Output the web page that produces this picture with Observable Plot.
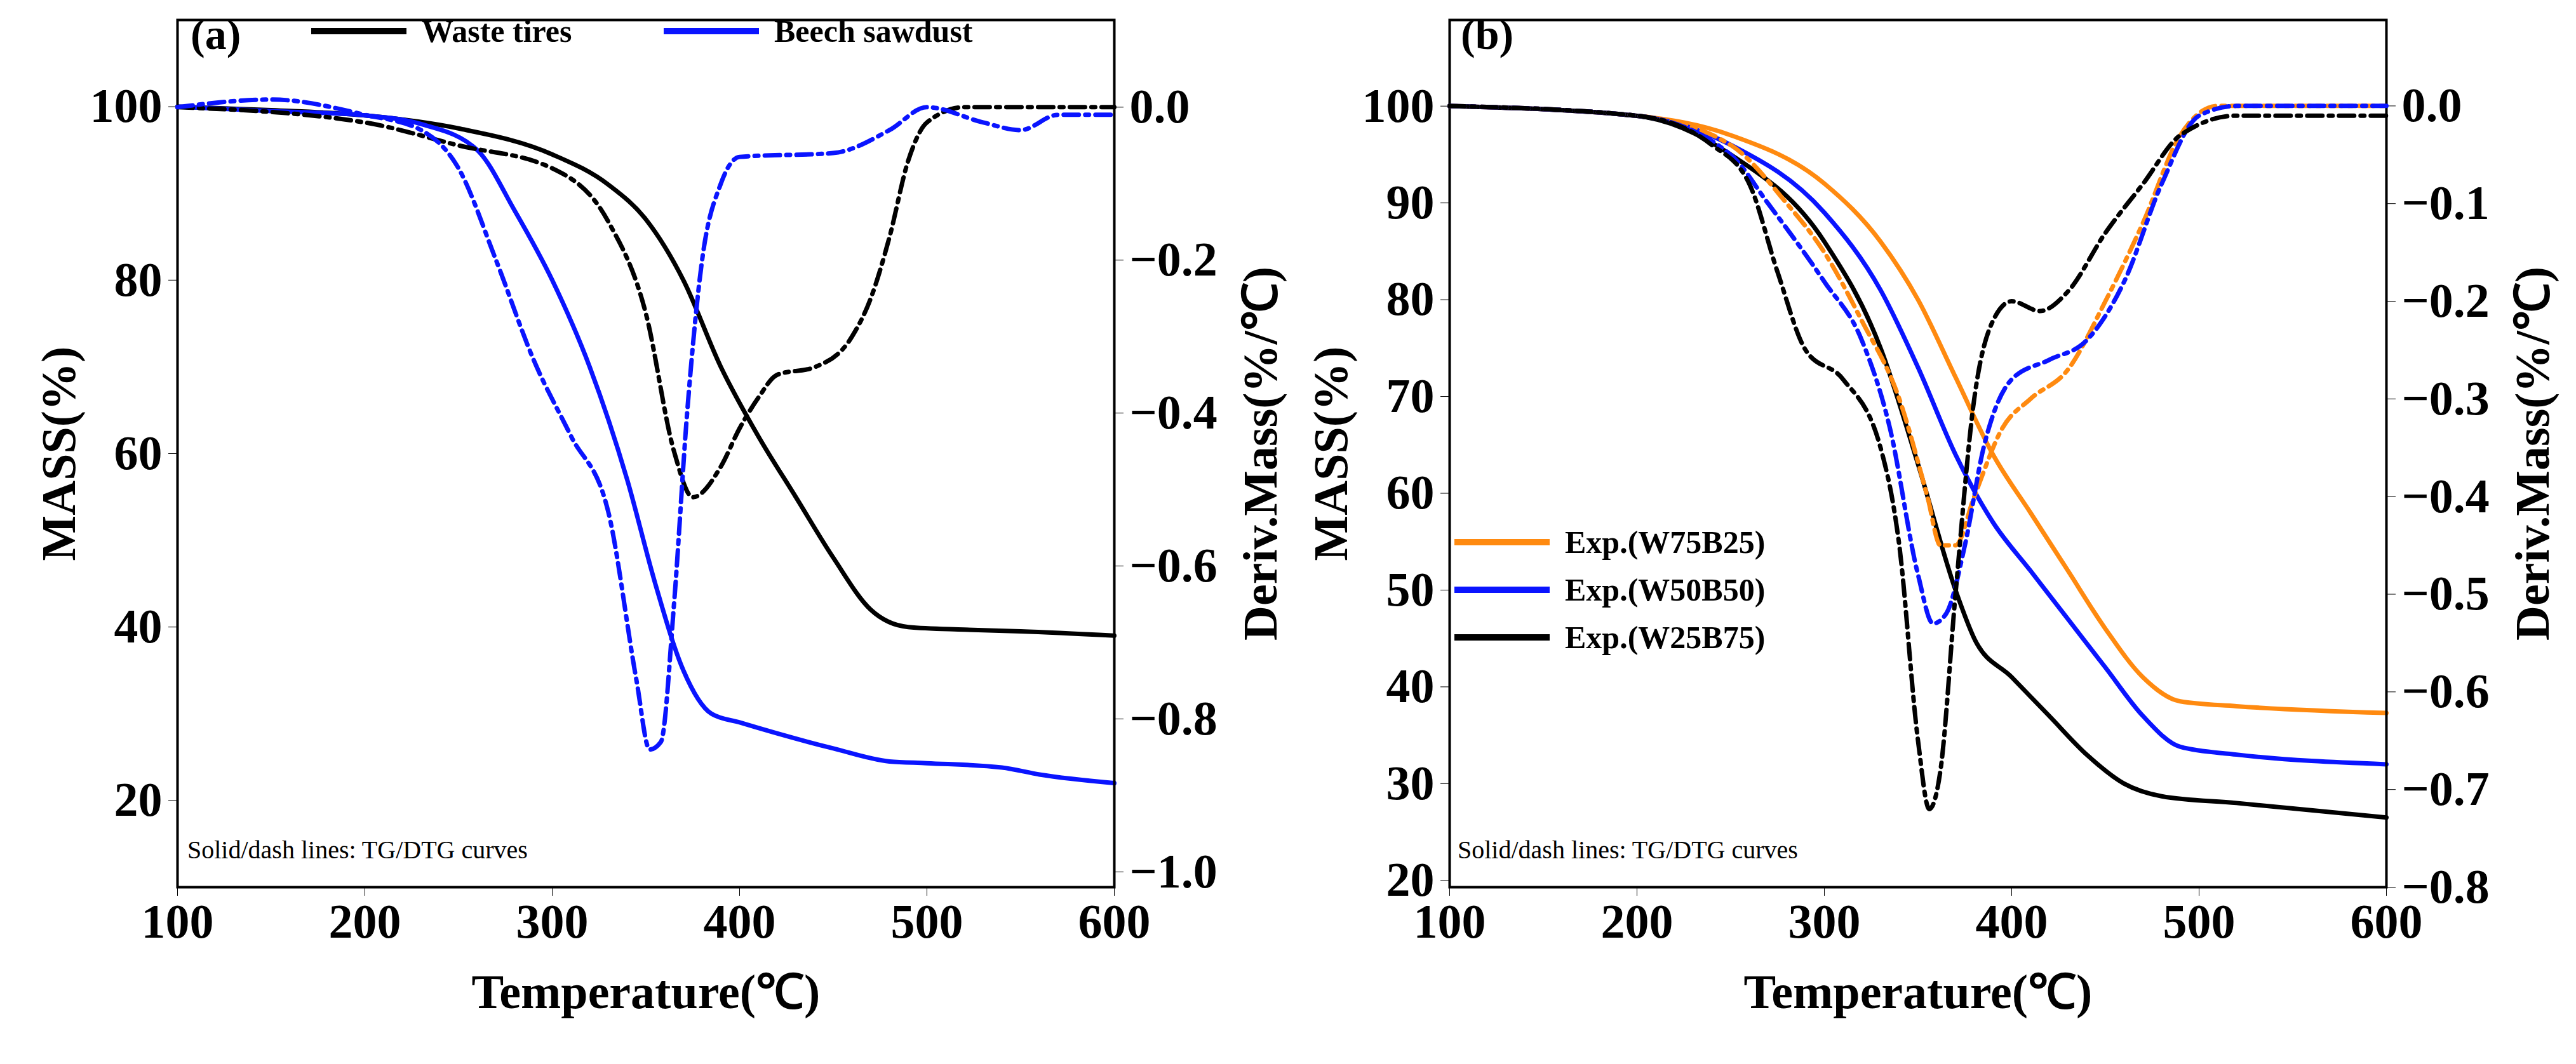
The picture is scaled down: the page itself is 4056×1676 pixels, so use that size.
<!DOCTYPE html>
<html><head><meta charset="utf-8">
<script src="https://cdn.jsdelivr.net/npm/d3@7"></script>
<script src="https://cdn.jsdelivr.net/npm/@observablehq/plot@0.6"></script>
<style>
body{margin:0;background:#fff;}
#wrap{position:relative;width:4056px;height:1676px;font-family:"Liberation Serif",serif;}
#wrap svg{position:absolute;top:0;}
.t{position:absolute;font-family:"Liberation Serif",serif;white-space:nowrap;}
.lg{position:absolute;display:flex;align-items:center;font-weight:bold;font-size:50px;font-family:"Liberation Serif",serif;}
.lg span.l{display:inline-block;width:150px;height:10px;margin-right:24px;}
</style></head><body>
<div id="wrap"></div>
<script>
// ---- Panel (a) data ----
const tA_wtTG = [100,150,200,250,300,330,350,370,390,410,430,450,470,490,520,550,600];
const wtTG    = [100,99.6,99,97.5,94.5,91,87,80,70,62,55,48,42,40,39.7,39.5,39];
const tA_bsTG = [100,150,200,230,260,280,300,320,340,355,370,385,400,450,480,500,540,560,600];
const bsTG    = [100,99.5,99,98,95,88,80,70,57,45,35,30,29,26,24.5,24.3,23.8,23,22];
const tA_wtD  = [100,200,250,300,330,350,365,375,390,400,410,420,440,460,470,480,490,500,520,600];
const wtDTG   = [0,-0.02,-0.05,-0.08,-0.15,-0.27,-0.45,-0.51,-0.47,-0.42,-0.38,-0.35,-0.34,-0.30,-0.25,-0.17,-0.07,-0.02,0,0];
const tA_bsD  = [100,150,200,230,250,270,290,310,330,345,352,358,365,372,380,390,400,450,480,500,530,550,570,600];
const bsDTG   = [0,0.01,-0.01,-0.03,-0.08,-0.2,-0.33,-0.43,-0.53,-0.75,-0.84,-0.83,-0.65,-0.4,-0.2,-0.1,-0.065,-0.06,-0.03,0,-0.02,-0.03,-0.01,-0.01];
// ---- Panel (b) data ----
const tB_TG = [100,200,250,300,330,350,370,390,410,430,450,470,490,520,600];
const w75TG = [100,99,97,92,86,80,72,64,58,52,46,41,38.5,38,37.3];
const w50TG = [100,99,96,89,81,73,64,57,52,47,42,37,33.8,33,32];
const tB_w25 = [100,200,250,300,330,350,370,380,400,420,440,460,480,520,600];
const w25TG = [100,99,95,86,75,63,50,45,41,37,33,30,28.7,28,26.5];
const tB_w75D = [100,200,250,280,300,320,340,355,362,370,380,395,410,430,450,470,490,510,600];
const w75DTG = [0,-0.01,-0.04,-0.1,-0.15,-0.22,-0.3,-0.4,-0.45,-0.45,-0.4,-0.33,-0.3,-0.27,-0.2,-0.12,-0.03,0,0];
const tB_w50D = [100,200,250,270,300,320,335,350,358,365,375,385,400,420,440,460,480,500,520,600];
const w50DTG = [0,-0.01,-0.05,-0.1,-0.18,-0.24,-0.33,-0.48,-0.53,-0.52,-0.45,-0.35,-0.28,-0.26,-0.24,-0.18,-0.08,-0.01,0,0];
const tB_w25D = [100,200,240,260,275,290,310,330,340,350,356,362,370,380,390,400,415,430,450,470,490,520,600];
const w25DTG = [0,-0.01,-0.04,-0.08,-0.17,-0.25,-0.28,-0.35,-0.45,-0.65,-0.72,-0.68,-0.5,-0.3,-0.22,-0.2,-0.21,-0.19,-0.13,-0.08,-0.03,-0.01,-0.01];
const xTicks = [100,200,300,400,500,600];

const BLACK="#000", BLUE="#0a14ff", ORANGE="#ff8a10";
const DASH="24,10,6,10";
const H=1676, MT=31, MB=279;
const st={fontSize:"52px",fontFamily:"Liberation Serif",fontWeight:"bold",background:"transparent",overflow:"visible"};
const zip=(xs,ys)=>xs.map((x,i)=>({x,y:ys[i]}));
const wrap=document.getElementById("wrap");
function line(d,c,dash){return Plot.line(d,{x:"x",y:"y",stroke:c,strokeWidth:7,curve:"monotone-x",strokeDasharray:dash});}

function panel(left,ml,mr,yDom,yTicks,dDom,dTicks,tg,dtg){
  const common={width:2028,height:H,marginLeft:ml,marginRight:mr,marginTop:MT,marginBottom:MB,style:st,
    x:{domain:[100,600]}};
  const p1=Plot.plot({...common,y:{domain:yDom},
    marks:[
      Plot.axisX({ticks:xTicks,tickSize:14,tickPadding:12,label:"Temperature(℃)",labelAnchor:"center",labelOffset:190,labelArrow:"none",fontSize:76}),
      Plot.axisY({ticks:yTicks,tickSize:14,tickPadding:10,label:"MASS(%)",labelAnchor:"center",labelOffset:215,labelArrow:"none",fontSize:76}),
      ...tg.map(([d,c])=>line(d,c)),
      Plot.frame({stroke:"#000",strokeWidth:4})
    ]});
  const p2=Plot.plot({...common,x:{domain:[100,600],axis:null},y:{domain:dDom},
    marks:[
      Plot.axisY({anchor:"right",ticks:dTicks,tickFormat:d3.format(".1f"),tickSize:14,tickPadding:10,label:"Deriv.Mass(%/℃)",labelAnchor:"center",labelOffset:255,labelArrow:"none",fontSize:76}),
      ...dtg.map(([d,c])=>line(d,c,DASH))
    ]});
  p1.style.left=left+"px"; p2.style.left=left+"px";
  wrap.appendChild(p1); wrap.appendChild(p2);
}
panel(0,279,274,[10,110],[20,40,60,80,100],[-1.02,0.114],[0,-0.2,-0.4,-0.6,-0.8,-1.0],
  [[zip(tA_wtTG,wtTG),BLACK],[zip(tA_bsTG,bsTG),BLUE]],
  [[zip(tA_wtD,wtDTG),BLACK],[zip(tA_bsD,bsDTG),BLUE]]);
panel(2028,254,299,[19.3,108.9],[20,30,40,50,60,70,80,90,100],[-0.8,0.088],[0,-0.1,-0.2,-0.3,-0.4,-0.5,-0.6,-0.7,-0.8],
  [[zip(tB_TG,w75TG),ORANGE],[zip(tB_TG,w50TG),BLUE],[zip(tB_w25,w25TG),BLACK]],
  [[zip(tB_w75D,w75DTG),ORANGE],[zip(tB_w50D,w50DTG),BLUE],[zip(tB_w25D,w25DTG),BLACK]]);

function txt(s,x,y,size,bold){const e=document.createElement("div");e.className="t";e.textContent=s;
  e.style.left=x+"px";e.style.top=y+"px";e.style.fontSize=size+"px";e.style.fontWeight=bold?"bold":"normal";wrap.appendChild(e);}
function lg(s,c,x,y){const e=document.createElement("div");e.className="lg";e.style.left=x+"px";e.style.top=y+"px";
  e.innerHTML=`<span class="l" style="background:${c}"></span>${s}`;wrap.appendChild(e);}
txt("(a)",300,15,68,true);
txt("(b)",2300,15,68,true);
txt("Solid/dash lines: TG/DTG curves",295,1315,40,false);
txt("Solid/dash lines: TG/DTG curves",2295,1315,40,false);
lg("Waste tires",BLACK,490,20);
lg("Beech sawdust",BLUE,1045,20);
lg("Exp.(W75B25)",ORANGE,2290,825);
lg("Exp.(W50B50)",BLUE,2290,900);
lg("Exp.(W25B75)",BLACK,2290,975);
</script></body></html>
